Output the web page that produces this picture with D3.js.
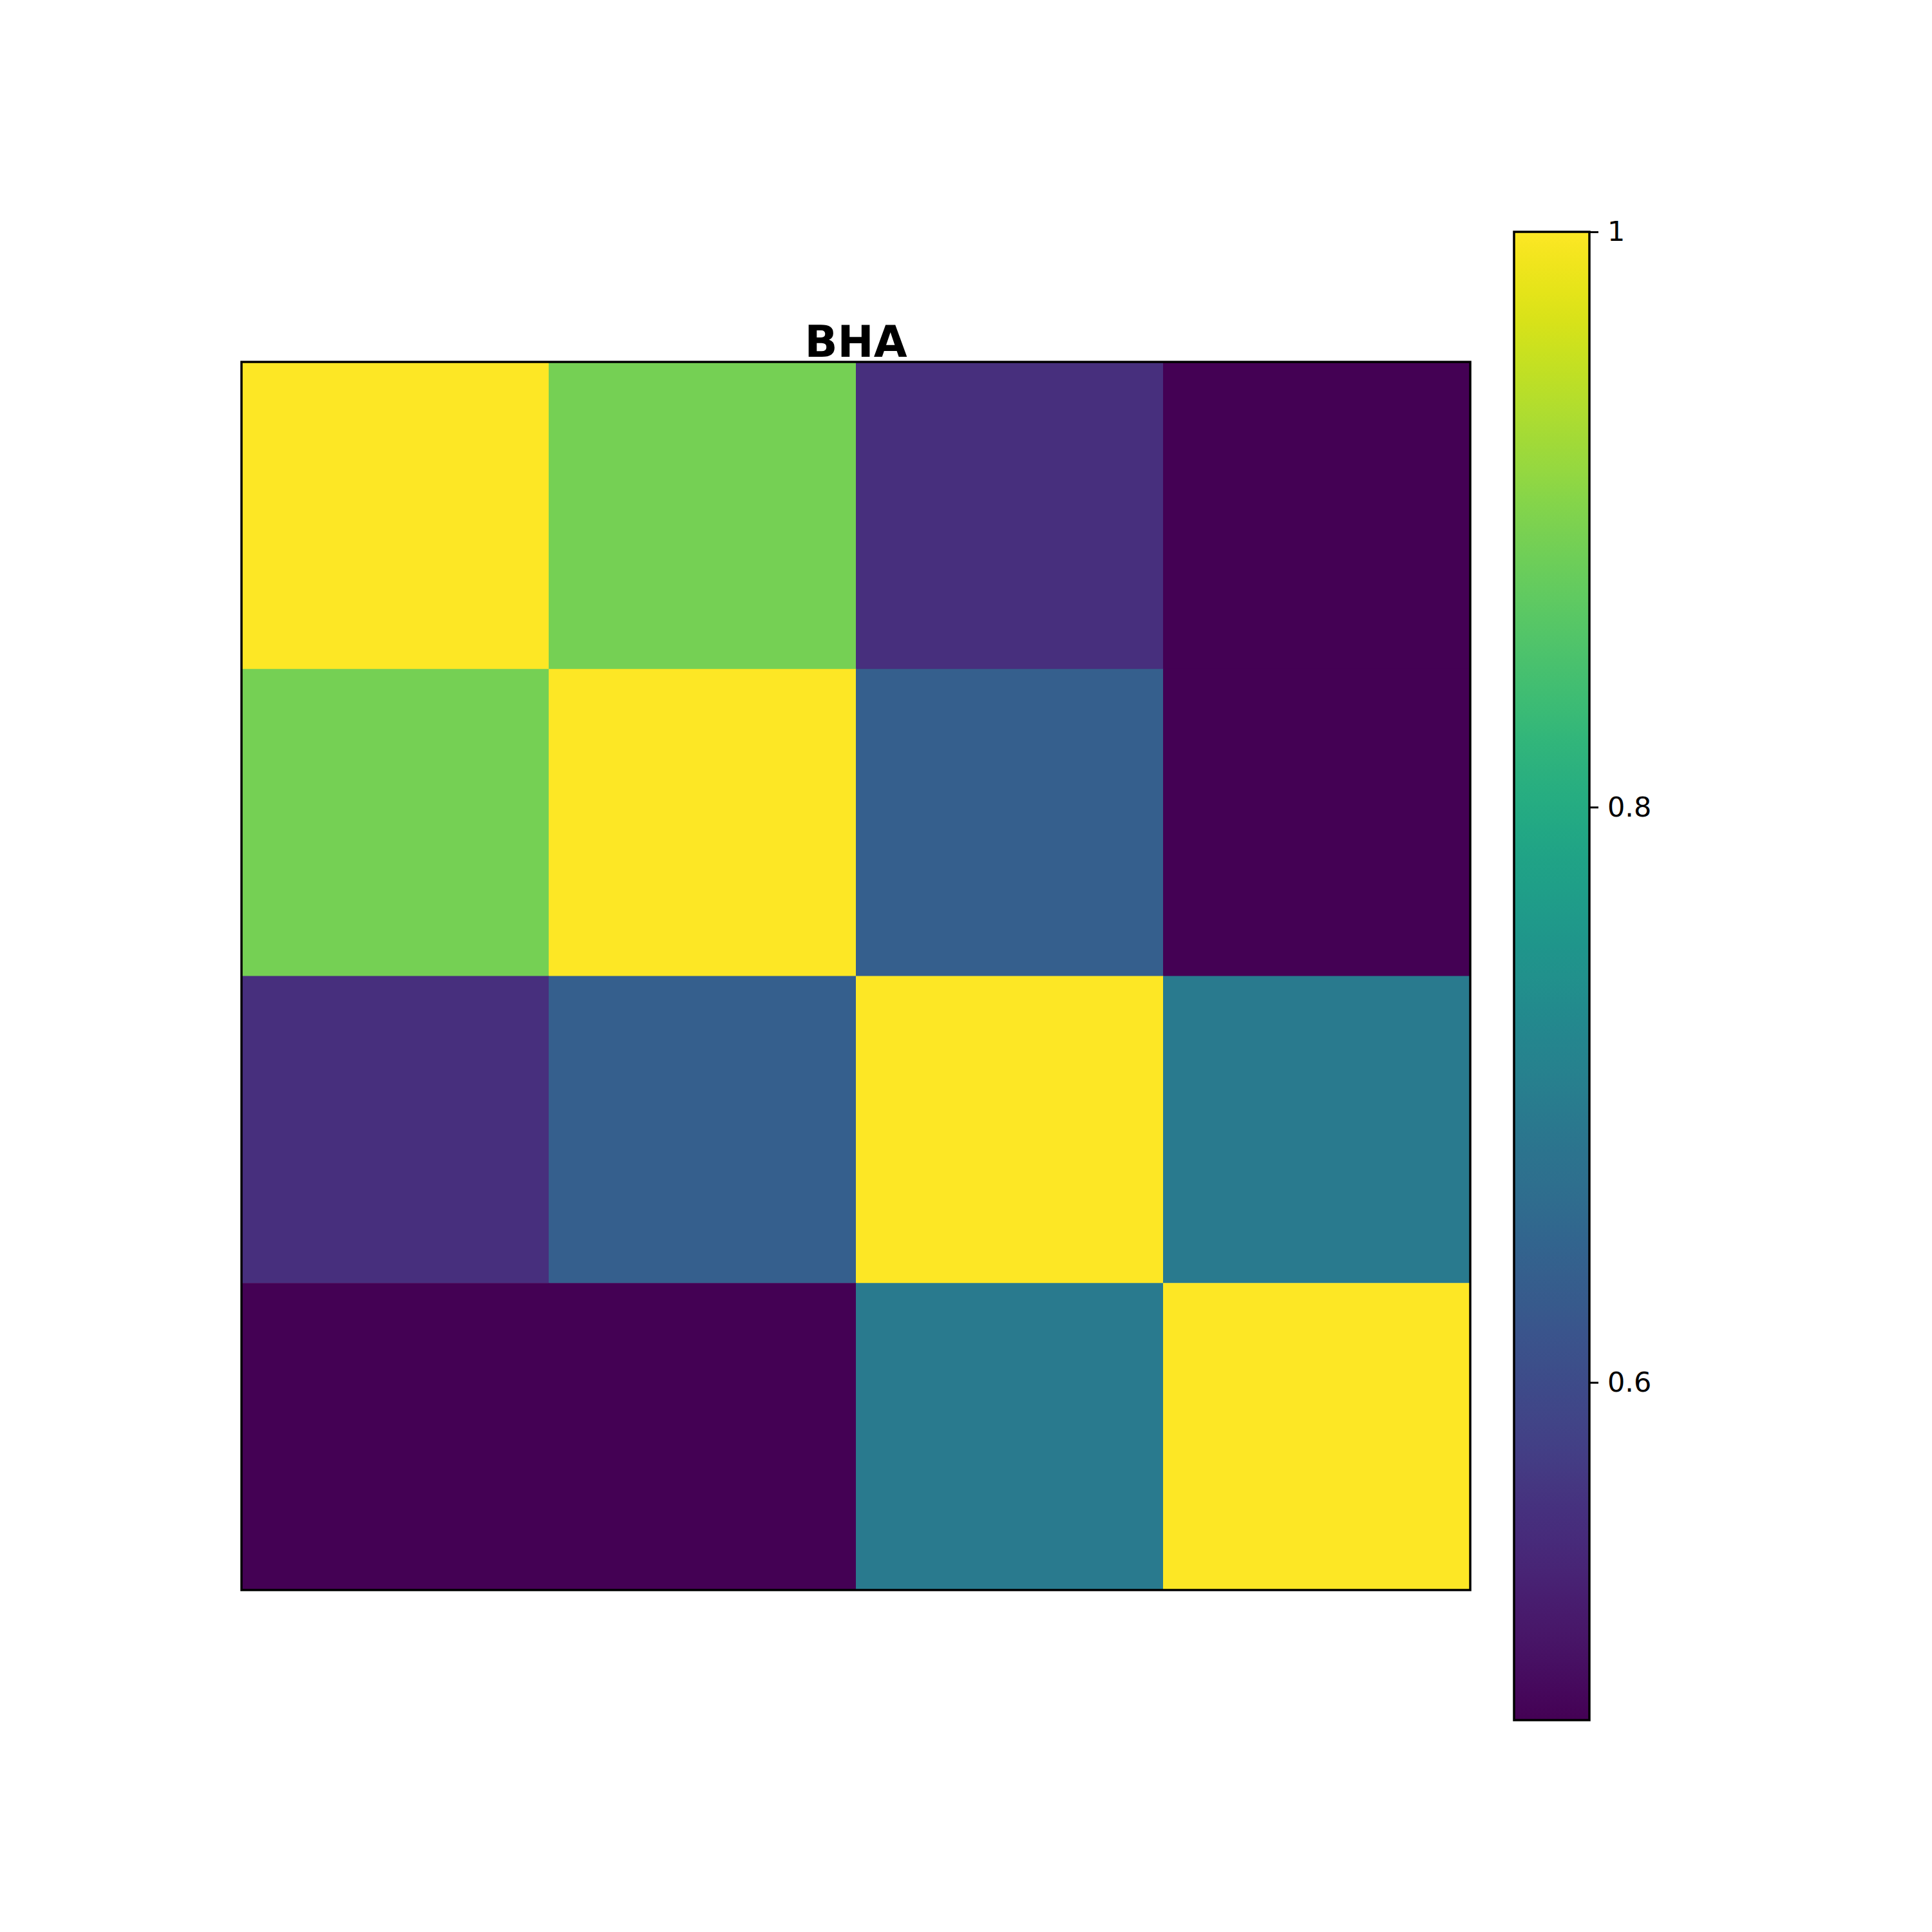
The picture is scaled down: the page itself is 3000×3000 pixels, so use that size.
<!DOCTYPE html>
<html><head><meta charset="utf-8">
<script src="https://cdn.jsdelivr.net/npm/d3@7"></script>
<style>body{margin:0;background:#fff}</style>
</head><body>
<script>
const title = "BHA";
const rows = [0, 1, 2, 3];
const cols = [0, 1, 2, 3];
const values = [
  [1.000, 0.892, 0.553, 0.4826],
  [0.892, 1.000, 0.638, 0.4826],
  [0.553, 0.638, 1.000, 0.693],
  [0.4826, 0.4826, 0.693, 1.000]
];
const cbTicks = [0.6, 0.8, 1];
const cbTickLabels = ["0.6", "0.8", "1"];

const W = 3000, H = 3000;
const svg = d3.select("body").append("svg").attr("width", W).attr("height", H)
  .style("font-family", "DejaVu Sans");
svg.append("rect").attr("width", W).attr("height", H).attr("fill", "#fff");

const hm = {x0: 375, x1: 2283, y0: 562, y1: 2469};
const x = d3.scaleBand().domain(cols).range([hm.x0, hm.x1]);
const y = d3.scaleBand().domain(rows).range([hm.y0, hm.y1]);
const flat = values.flat();
const vmin = d3.min(flat), vmax = d3.max(flat);
const color = d3.scaleSequential(d3.interpolateViridis).domain([vmin, vmax]);

const cells = [];
rows.forEach(r => cols.forEach(c => cells.push({r, c, v: values[r][c]})));
svg.append("g").selectAll("rect").data(cells).join("rect")
  .attr("x", d => x(d.c)).attr("y", d => y(d.r))
  .attr("width", x.bandwidth() + 0.5).attr("height", y.bandwidth() + 0.5)
  .attr("fill", d => color(d.v));
svg.append("rect").attr("x", hm.x0).attr("y", hm.y0)
  .attr("width", hm.x1 - hm.x0).attr("height", hm.y1 - hm.y0)
  .attr("fill", "none").attr("stroke", "#000").attr("stroke-width", 3.5);

svg.append("text").attr("x", (hm.x0 + hm.x1) / 2).attr("y", 554)
  .attr("text-anchor", "middle").attr("font-weight", "bold")
  .attr("font-size", 67).text(title);

// colorbar
const cb = {x0: 2351, x1: 2468, y0: 360, y1: 2671};
const cy = d3.scaleLinear().domain([vmin, vmax]).range([cb.y1, cb.y0]);
const defs = svg.append("defs");
const grad = defs.append("linearGradient").attr("id", "cbg")
  .attr("x1", 0).attr("y1", 1).attr("x2", 0).attr("y2", 0);
d3.range(0, 1.0001, 0.02).forEach(t => {
  grad.append("stop").attr("offset", t).attr("stop-color", d3.interpolateViridis(t));
});
svg.append("rect").attr("x", cb.x0).attr("y", cb.y0)
  .attr("width", cb.x1 - cb.x0).attr("height", cb.y1 - cb.y0)
  .attr("fill", "url(#cbg)").attr("stroke", "#000").attr("stroke-width", 3.5);

const axis = d3.axisRight(cy).tickValues(cbTicks)
  .tickFormat((d, i) => cbTickLabels[i]).tickSize(14).tickPadding(14);
const ag = svg.append("g").attr("transform", `translate(${cb.x1},0)`).call(axis);
ag.select(".domain").remove();
ag.selectAll(".tick line").attr("stroke-width", 3);
ag.selectAll(".tick text").attr("font-size", 43).attr("font-family", "DejaVu Sans").attr("fill", "#000");
</script>
</body></html>
